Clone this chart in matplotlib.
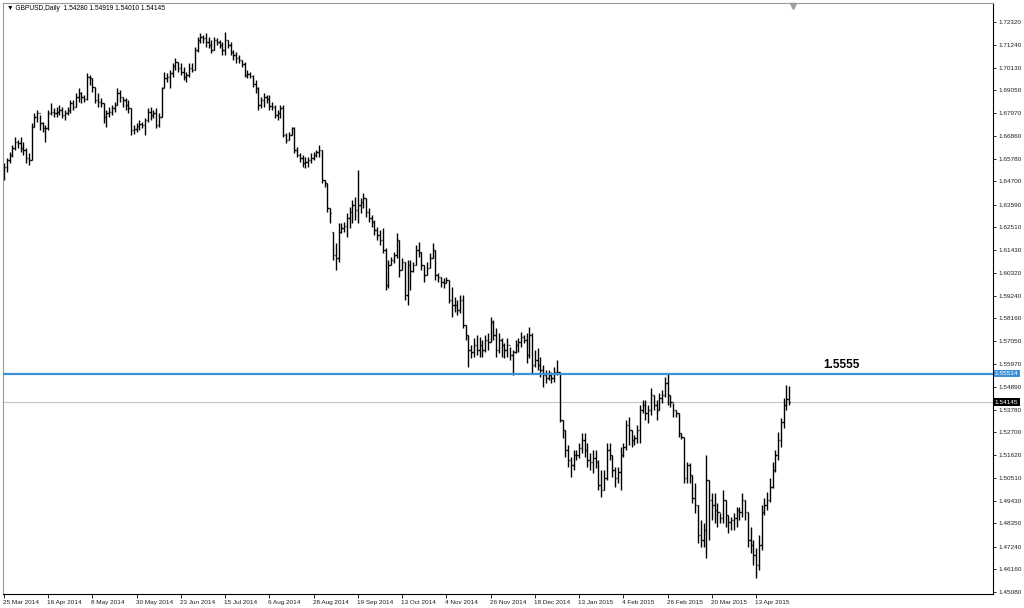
import matplotlib
matplotlib.use("Agg")
import matplotlib.pyplot as plt
import matplotlib.transforms as mtransforms
import numpy as np

plt.rcParams['font.family'] = ['Liberation Sans', 'DejaVu Sans']

# GBPUSD daily bars, 25 Mar 2014 .. 29 Apr 2015
header = "\u25bc GBPUSD,Daily  1.54280 1.54919 1.54010 1.54145"

opens = [
    1.6500, 1.6539, 1.6572, 1.6596, 1.6629, 1.6658, 1.6653, 1.6629, 1.6620, 1.6582,
    1.6572, 1.6730, 1.6778, 1.6797, 1.6749, 1.6725, 1.6725, 1.6797, 1.6801, 1.6797,
    1.6801, 1.6811, 1.6787, 1.6797, 1.6811, 1.6845, 1.6826, 1.6873, 1.6893, 1.6873,
    1.6864, 1.6969, 1.6964, 1.6921, 1.6859, 1.6849, 1.6845, 1.6778, 1.6797, 1.6801,
    1.6821, 1.6835, 1.6893, 1.6873, 1.6859, 1.6835, 1.6821, 1.6716, 1.6720, 1.6735,
    1.6744, 1.6739, 1.6763, 1.6801, 1.6787, 1.6797, 1.6739, 1.6778, 1.6917, 1.6964,
    1.6969, 1.6988, 1.7022, 1.7041, 1.7012, 1.6993, 1.6969, 1.6979, 1.7012, 1.7002,
    1.7098, 1.7146, 1.7160, 1.7155, 1.7136, 1.7122, 1.7098, 1.7146, 1.7136, 1.7122,
    1.7098, 1.7146, 1.7122, 1.7088, 1.7074, 1.7060, 1.7050, 1.7031, 1.6979, 1.6983,
    1.6974, 1.6935, 1.6917, 1.6835, 1.6859, 1.6873, 1.6864, 1.6830, 1.6826, 1.6787,
    1.6797, 1.6821, 1.6692, 1.6668, 1.6692, 1.6725, 1.6620, 1.6596, 1.6582, 1.6558,
    1.6563, 1.6572, 1.6582, 1.6596, 1.6610, 1.6620, 1.6477, 1.6462, 1.6343, 1.6228,
    1.6118, 1.6104, 1.6228, 1.6247, 1.6257, 1.6295, 1.6324, 1.6357, 1.6333, 1.6357,
    1.6372, 1.6391, 1.6324, 1.6295, 1.6276, 1.6237, 1.6214, 1.6190, 1.6142, 1.5975,
    1.6070, 1.6094, 1.6118, 1.6190, 1.6046, 1.6085, 1.5927, 1.6070, 1.6040, 1.6070,
    1.6142, 1.6133, 1.6070, 1.6022, 1.6056, 1.6104, 1.6142, 1.6022, 1.6013, 1.5989,
    1.5984, 1.5998, 1.5903, 1.5879, 1.5879, 1.5855, 1.5903, 1.5783, 1.5736, 1.5664,
    1.5654, 1.5688, 1.5664, 1.5688, 1.5664, 1.5712, 1.5702, 1.5798, 1.5736, 1.5664,
    1.5712, 1.5688, 1.5664, 1.5688, 1.5640, 1.5654, 1.5688, 1.5702, 1.5726, 1.5712,
    1.5640, 1.5736, 1.5592, 1.5616, 1.5592, 1.5568, 1.5544, 1.5530, 1.5544, 1.5530,
    1.5559, 1.5559, 1.5329, 1.5282, 1.5186, 1.5138, 1.5114, 1.5162, 1.5162, 1.5196,
    1.5234, 1.5186, 1.5138, 1.5129, 1.5148, 1.5129, 1.5019, 1.4995, 1.5052, 1.5186,
    1.5162, 1.5090, 1.5052, 1.5081, 1.5162, 1.5201, 1.5306, 1.5282, 1.5234, 1.5243,
    1.5282, 1.5377, 1.5401, 1.5363, 1.5377, 1.5449, 1.5401, 1.5377, 1.5435, 1.5449,
    1.5506, 1.5449, 1.5415, 1.5377, 1.5363, 1.5267, 1.5248, 1.5052, 1.5114, 1.5067,
    1.4957, 1.4923, 1.4780, 1.4756, 1.4804, 1.5043, 1.4947, 1.4923, 1.4899, 1.4890,
    1.4861, 1.4947, 1.4875, 1.4842, 1.4851, 1.4861, 1.4899, 1.4890, 1.4947, 1.4890,
    1.4756, 1.4732, 1.4684, 1.4636, 1.4732, 1.4890, 1.4923, 1.4947, 1.5009, 1.5090,
    1.5162, 1.5234, 1.5320, 1.5401, 1.5428,
]

highs = [
    1.6558, 1.6582, 1.6610, 1.6644, 1.6682, 1.6668, 1.6682, 1.6658, 1.6629, 1.6606,
    1.6749, 1.6797, 1.6811, 1.6787, 1.6754, 1.6739, 1.6811, 1.6845, 1.6821, 1.6826,
    1.6835, 1.6826, 1.6811, 1.6826, 1.6859, 1.6859, 1.6893, 1.6917, 1.6897, 1.6883,
    1.6988, 1.6979, 1.6964, 1.6921, 1.6893, 1.6869, 1.6845, 1.6811, 1.6826, 1.6835,
    1.6849, 1.6917, 1.6907, 1.6873, 1.6869, 1.6859, 1.6821, 1.6739, 1.6749, 1.6763,
    1.6754, 1.6773, 1.6821, 1.6826, 1.6811, 1.6821, 1.6797, 1.6921, 1.6993, 1.6988,
    1.7002, 1.7036, 1.7060, 1.7041, 1.7036, 1.7017, 1.6993, 1.7036, 1.7036, 1.7112,
    1.7160, 1.7179, 1.7170, 1.7179, 1.7160, 1.7146, 1.7160, 1.7155, 1.7146, 1.7136,
    1.7184, 1.7146, 1.7136, 1.7098, 1.7088, 1.7074, 1.7050, 1.7041, 1.7002, 1.6993,
    1.6979, 1.6955, 1.6921, 1.6873, 1.6893, 1.6883, 1.6883, 1.6849, 1.6835, 1.6811,
    1.6835, 1.6835, 1.6701, 1.6706, 1.6730, 1.6730, 1.6634, 1.6606, 1.6596, 1.6586,
    1.6586, 1.6606, 1.6610, 1.6620, 1.6644, 1.6620, 1.6477, 1.6462, 1.6343, 1.6228,
    1.6175, 1.6271, 1.6271, 1.6276, 1.6319, 1.6348, 1.6381, 1.6395, 1.6524, 1.6391,
    1.6414, 1.6391, 1.6343, 1.6309, 1.6285, 1.6252, 1.6237, 1.6247, 1.6152, 1.6094,
    1.6109, 1.6133, 1.6223, 1.6190, 1.6104, 1.6085, 1.6094, 1.6094, 1.6085, 1.6166,
    1.6180, 1.6133, 1.6070, 1.6085, 1.6128, 1.6175, 1.6142, 1.6032, 1.6013, 1.6008,
    1.6013, 1.5998, 1.5965, 1.5917, 1.5903, 1.5927, 1.5927, 1.5783, 1.5736, 1.5688,
    1.5721, 1.5736, 1.5726, 1.5712, 1.5736, 1.5745, 1.5822, 1.5807, 1.5769, 1.5745,
    1.5721, 1.5697, 1.5721, 1.5678, 1.5664, 1.5712, 1.5721, 1.5750, 1.5736, 1.5745,
    1.5774, 1.5745, 1.5664, 1.5673, 1.5631, 1.5592, 1.5568, 1.5568, 1.5559, 1.5583,
    1.5616, 1.5559, 1.5329, 1.5282, 1.5210, 1.5152, 1.5186, 1.5186, 1.5220, 1.5267,
    1.5267, 1.5220, 1.5172, 1.5186, 1.5186, 1.5138, 1.5090, 1.5090, 1.5220, 1.5220,
    1.5162, 1.5105, 1.5105, 1.5201, 1.5220, 1.5329, 1.5344, 1.5282, 1.5258, 1.5306,
    1.5401, 1.5425, 1.5425, 1.5401, 1.5483, 1.5449, 1.5425, 1.5459, 1.5473, 1.5535,
    1.5554, 1.5449, 1.5411, 1.5377, 1.5363, 1.5267, 1.5248, 1.5129, 1.5124, 1.5067,
    1.5028, 1.4923, 1.4851, 1.4837, 1.5162, 1.5043, 1.4981, 1.4981, 1.4933, 1.4885,
    1.4995, 1.4947, 1.4875, 1.4866, 1.4885, 1.4914, 1.4914, 1.4981, 1.4947, 1.4890,
    1.4818, 1.4756, 1.4718, 1.4780, 1.4923, 1.4957, 1.4985, 1.5052, 1.5129, 1.5186,
    1.5272, 1.5339, 1.5435, 1.5497, 1.54919,
]

lows = [
    1.6477, 1.6515, 1.6558, 1.6586, 1.6620, 1.6629, 1.6610, 1.6596, 1.6558, 1.6548,
    1.6572, 1.6730, 1.6754, 1.6716, 1.6706, 1.6658, 1.6716, 1.6787, 1.6778, 1.6778,
    1.6787, 1.6773, 1.6763, 1.6787, 1.6797, 1.6811, 1.6826, 1.6849, 1.6845, 1.6849,
    1.6859, 1.6931, 1.6897, 1.6845, 1.6826, 1.6826, 1.6749, 1.6730, 1.6778, 1.6787,
    1.6801, 1.6835, 1.6849, 1.6826, 1.6811, 1.6797, 1.6692, 1.6697, 1.6706, 1.6716,
    1.6725, 1.6692, 1.6754, 1.6763, 1.6773, 1.6725, 1.6730, 1.6778, 1.6917, 1.6945,
    1.6917, 1.6969, 1.7002, 1.6993, 1.6979, 1.6955, 1.6945, 1.6969, 1.6993, 1.7002,
    1.7088, 1.7131, 1.7131, 1.7112, 1.7107, 1.7084, 1.7098, 1.7122, 1.7107, 1.7074,
    1.7074, 1.7107, 1.7074, 1.7050, 1.7036, 1.7036, 1.7017, 1.6969, 1.6964, 1.6964,
    1.6921, 1.6893, 1.6811, 1.6821, 1.6826, 1.6845, 1.6811, 1.6811, 1.6773, 1.6763,
    1.6773, 1.6682, 1.6653, 1.6668, 1.6692, 1.6606, 1.6586, 1.6563, 1.6539, 1.6534,
    1.6539, 1.6558, 1.6572, 1.6586, 1.6586, 1.6462, 1.6443, 1.6324, 1.6271, 1.6094,
    1.6046, 1.6085, 1.6223, 1.6228, 1.6204, 1.6247, 1.6271, 1.6285, 1.6271, 1.6319,
    1.6343, 1.6300, 1.6276, 1.6252, 1.6214, 1.6190, 1.6166, 1.6128, 1.5951, 1.5960,
    1.6070, 1.6080, 1.6104, 1.6013, 1.6046, 1.5903, 1.5879, 1.5951, 1.6037, 1.6070,
    1.6109, 1.6046, 1.5989, 1.6022, 1.6056, 1.6104, 1.5998, 1.5989, 1.5965, 1.5960,
    1.5984, 1.5889, 1.5822, 1.5846, 1.5831, 1.5841, 1.5769, 1.5712, 1.5583, 1.5626,
    1.5631, 1.5640, 1.5631, 1.5631, 1.5654, 1.5664, 1.5702, 1.5712, 1.5631, 1.5650,
    1.5631, 1.5626, 1.5631, 1.5616, 1.5544, 1.5650, 1.5654, 1.5678, 1.5697, 1.5602,
    1.5626, 1.5554, 1.5583, 1.5568, 1.5535, 1.5487, 1.5506, 1.5521, 1.5506, 1.5511,
    1.5544, 1.5320, 1.5243, 1.5152, 1.5105, 1.5057, 1.5090, 1.5138, 1.5148, 1.5172,
    1.5152, 1.5105, 1.5090, 1.5076, 1.5100, 1.4995, 1.4961, 1.4995, 1.5043, 1.5138,
    1.5057, 1.5009, 1.5028, 1.4995, 1.5152, 1.5186, 1.5210, 1.5201, 1.5210, 1.5220,
    1.5220, 1.5363, 1.5329, 1.5315, 1.5353, 1.5377, 1.5329, 1.5377, 1.5411, 1.5439,
    1.5401, 1.5392, 1.5344, 1.5344, 1.5248, 1.5239, 1.5028, 1.5028, 1.5028, 1.4933,
    1.4885, 1.4741, 1.4722, 1.4722, 1.4670, 1.4756, 1.4851, 1.4837, 1.4818, 1.4837,
    1.4837, 1.4818, 1.4789, 1.4804, 1.4804, 1.4818, 1.4851, 1.4866, 1.4851, 1.4722,
    1.4694, 1.4636, 1.4574, 1.4612, 1.4708, 1.4875, 1.4899, 1.4937, 1.5004, 1.5081,
    1.5138, 1.5201, 1.5291, 1.5377, 1.54010,
]

closes = [
    1.6539, 1.6572, 1.6596, 1.6629, 1.6658, 1.6653, 1.6629, 1.6620, 1.6582, 1.6572,
    1.6730, 1.6778, 1.6797, 1.6749, 1.6725, 1.6725, 1.6797, 1.6801, 1.6797, 1.6801,
    1.6811, 1.6787, 1.6797, 1.6811, 1.6845, 1.6826, 1.6873, 1.6893, 1.6873, 1.6864,
    1.6969, 1.6964, 1.6921, 1.6859, 1.6849, 1.6845, 1.6778, 1.6797, 1.6801, 1.6821,
    1.6835, 1.6893, 1.6873, 1.6859, 1.6835, 1.6821, 1.6716, 1.6720, 1.6735, 1.6744,
    1.6739, 1.6763, 1.6801, 1.6787, 1.6797, 1.6739, 1.6778, 1.6917, 1.6964, 1.6969,
    1.6988, 1.7022, 1.7041, 1.7012, 1.6993, 1.6969, 1.6979, 1.7012, 1.7002, 1.7098,
    1.7146, 1.7160, 1.7155, 1.7136, 1.7122, 1.7098, 1.7146, 1.7136, 1.7122, 1.7098,
    1.7146, 1.7122, 1.7088, 1.7074, 1.7060, 1.7050, 1.7031, 1.6979, 1.6983, 1.6974,
    1.6935, 1.6917, 1.6835, 1.6859, 1.6873, 1.6864, 1.6830, 1.6826, 1.6787, 1.6797,
    1.6821, 1.6692, 1.6668, 1.6692, 1.6725, 1.6620, 1.6596, 1.6582, 1.6558, 1.6563,
    1.6572, 1.6582, 1.6596, 1.6610, 1.6620, 1.6477, 1.6462, 1.6343, 1.6319, 1.6118,
    1.6104, 1.6228, 1.6247, 1.6257, 1.6295, 1.6324, 1.6357, 1.6333, 1.6357, 1.6372,
    1.6391, 1.6324, 1.6295, 1.6276, 1.6237, 1.6214, 1.6190, 1.6142, 1.5975, 1.6070,
    1.6094, 1.6118, 1.6190, 1.6046, 1.6085, 1.5927, 1.6070, 1.6040, 1.6070, 1.6142,
    1.6133, 1.6070, 1.6022, 1.6056, 1.6104, 1.6142, 1.6022, 1.6013, 1.5989, 1.5984,
    1.5998, 1.5903, 1.5879, 1.5879, 1.5855, 1.5903, 1.5783, 1.5736, 1.5664, 1.5654,
    1.5688, 1.5664, 1.5688, 1.5664, 1.5712, 1.5702, 1.5798, 1.5736, 1.5664, 1.5712,
    1.5688, 1.5664, 1.5688, 1.5640, 1.5654, 1.5688, 1.5702, 1.5726, 1.5712, 1.5640,
    1.5736, 1.5592, 1.5616, 1.5592, 1.5568, 1.5544, 1.5530, 1.5544, 1.5530, 1.5559,
    1.5559, 1.5329, 1.5282, 1.5186, 1.5138, 1.5114, 1.5162, 1.5162, 1.5196, 1.5234,
    1.5186, 1.5138, 1.5129, 1.5148, 1.5129, 1.5019, 1.4995, 1.5052, 1.5186, 1.5162,
    1.5090, 1.5052, 1.5081, 1.5162, 1.5201, 1.5306, 1.5282, 1.5234, 1.5243, 1.5282,
    1.5377, 1.5401, 1.5363, 1.5377, 1.5449, 1.5401, 1.5377, 1.5435, 1.5449, 1.5506,
    1.5449, 1.5415, 1.5377, 1.5363, 1.5267, 1.5248, 1.5052, 1.5114, 1.5067, 1.4957,
    1.4923, 1.4780, 1.4756, 1.4804, 1.5043, 1.4947, 1.4923, 1.4899, 1.4890, 1.4861,
    1.4947, 1.4875, 1.4842, 1.4851, 1.4861, 1.4899, 1.4890, 1.4947, 1.4890, 1.4756,
    1.4732, 1.4684, 1.4636, 1.4732, 1.4890, 1.4923, 1.4947, 1.5009, 1.5090, 1.5162,
    1.5234, 1.5320, 1.5401, 1.5428, 1.54145,
]

date_labels = ["25 Mar 2014", "16 Apr 2014", "8 May 2014", "30 May 2014", "23 Jun 2014",
               "15 Jul 2014", "6 Aug 2014", "28 Aug 2014", "19 Sep 2014", "13 Oct 2014",
               "4 Nov 2014", "26 Nov 2014", "18 Dec 2014", "13 Jan 2015", "4 Feb 2015",
               "26 Feb 2015", "20 Mar 2015", "13 Apr 2015"]
bars_per_label = 16

price_ticks = [1.72320, 1.71240, 1.70130, 1.69050, 1.67970, 1.66860, 1.65780, 1.64700,
               1.63590, 1.62510, 1.61430, 1.60320, 1.59240, 1.58160, 1.57050, 1.55970,
               1.54890, 1.53780, 1.52700, 1.51620, 1.50510, 1.49430, 1.48350, 1.47240,
               1.46160, 1.45080]

level_price = 1.55514
level_label = "1.5555"
bid_price = 1.54145

blue = '#3d8fd6'
small = 4.6

fig = plt.figure(figsize=(10.24, 6.08), dpi=100)
ax = fig.add_axes([3 / 1024, 14 / 608, 990 / 1024, 591 / 608])

x = np.arange(len(closes))
ax.vlines(x, lows, highs, color='black', lw=1.0)
ax.hlines(opens, x - 0.45, x, color='black', lw=1.0)
ax.hlines(closes, x, x + 0.45, color='black', lw=1.0)

ax.axhline(bid_price, color='#c4c4c4', lw=0.8, zorder=0)
ax.axhline(level_price, color=blue, lw=1.6, zorder=3)
ax.annotate(level_label, (303, level_price), xytext=(0, 2), textcoords='offset points',
            ha='center', va='bottom', fontsize=8.5, fontweight='bold')

ax.set_xlim(-0.36, 357.7)
ax.set_ylim(1.4498, 1.7323)

ax.yaxis.tick_right()
ax.set_yticks(price_ticks)
ax.set_yticklabels([f"{p:.5f}" for p in price_ticks])
ax.tick_params(axis='y', direction='out', length=2.5, width=0.6, pad=1.2,
               labelsize=small, labelcolor='#202020')

ax.set_xticks(np.arange(len(date_labels)) * bars_per_label)
ax.set_xticklabels(date_labels, ha='left')
ax.tick_params(axis='x', direction='out', length=3, width=0.6, pad=1,
               labelsize=small, labelcolor='#202020')
offset = mtransforms.ScaledTranslation(-1 / 100, 0, fig.dpi_scale_trans)
for lab in ax.get_xticklabels():
    lab.set_transform(lab.get_transform() + offset)

for side in ['left', 'top']:
    ax.spines[side].set_color('#9a9a9a')
    ax.spines[side].set_linewidth(0.8)
for side in ['right', 'bottom']:
    ax.spines[side].set_color('black')
    ax.spines[side].set_linewidth(0.8)

# price tags on the right axis
ytrans = mtransforms.blended_transform_factory(ax.transAxes, ax.transData)
ax.text(1.002, level_price, f"{level_price:.5f}", transform=ytrans, ha='left', va='center',
        fontsize=small, color='white', clip_on=False,
        bbox=dict(boxstyle='square,pad=0.2', fc=blue, ec='none'))
ax.text(1.002, bid_price, f"{bid_price:.5f}", transform=ytrans, ha='left', va='center',
        fontsize=small, color='white', clip_on=False,
        bbox=dict(boxstyle='square,pad=0.2', fc='black', ec='none'))

ax.text(0.004, 0.997, header, transform=ax.transAxes, ha='left', va='top', fontsize=4.8)

# chart shift marker at the top
xtrans = mtransforms.blended_transform_factory(ax.transData, ax.transAxes)
ax.plot([285.5], [0.995], marker='v', ms=4, color='#a0a0a0', transform=xtrans, clip_on=False)

fig.savefig('out.png', dpi=100, facecolor='white')
